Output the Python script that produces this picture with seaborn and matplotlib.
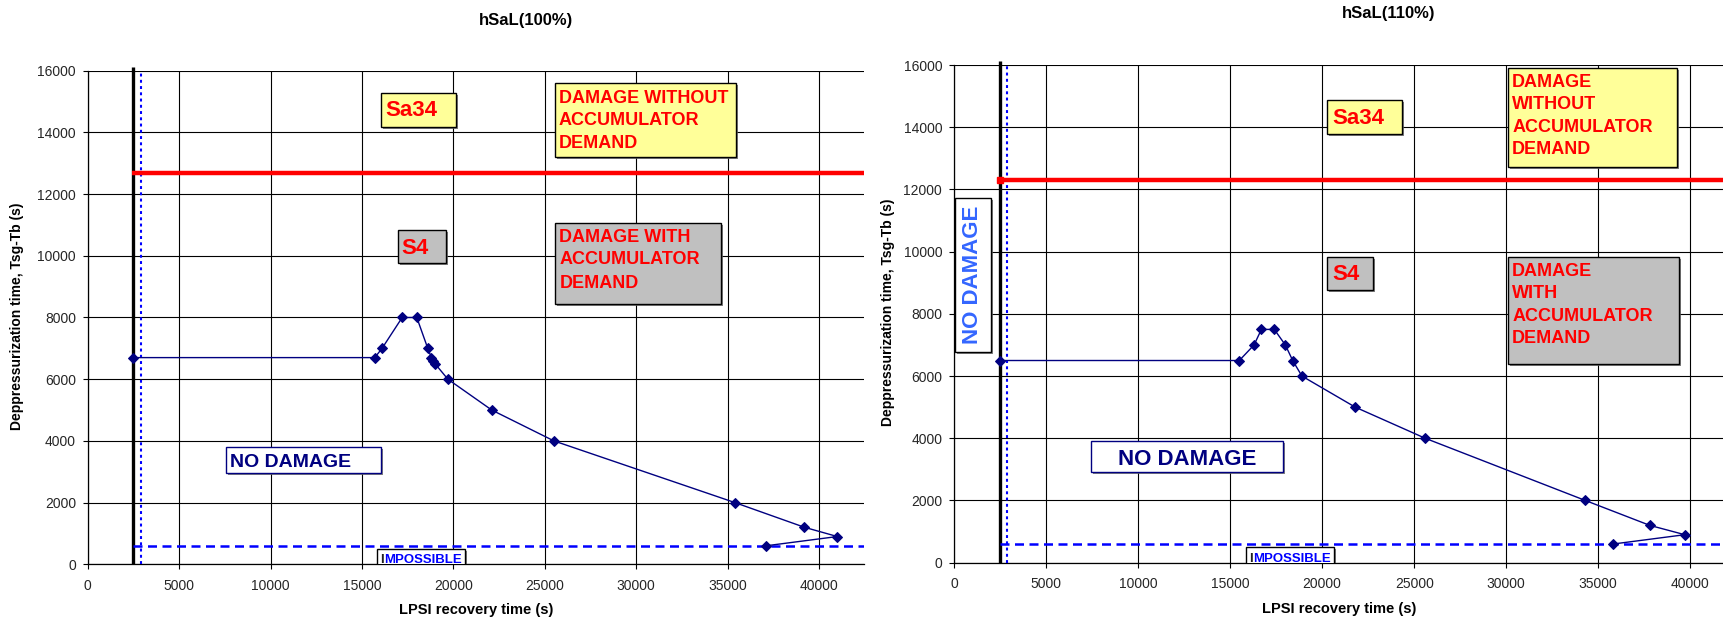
import matplotlib
matplotlib.use("Agg")
import matplotlib.pyplot as plt
import matplotlib.patheffects as pe
from matplotlib.patches import Rectangle
import seaborn as sns
import pandas as pd

# ---- data -------------------------------------------------------------
# hSaL(100%) boundary curve
lpsi_100 = [2500, 15700, 16100, 17200, 18000, 18600, 18800, 18900, 19000,
            19700, 22100, 25500, 35400, 39200, 41000, 37100]
depress_100 = [6700, 6700, 7000, 8000, 8000, 7000, 6700, 6600, 6500,
               6000, 5000, 4000, 2000, 1200, 900, 600]

# hSaL(110%) boundary curve
lpsi_110 = [2500, 15500, 16300, 16700, 17400, 18000, 18400, 18900,
            21800, 25600, 34300, 37800, 39700, 35800]
depress_110 = [6500, 6500, 7000, 7500, 7500, 7000, 6500, 6000,
               5000, 4000, 2000, 1200, 900, 600]

titles = ["hSaL(100%)", "hSaL(110%)"]
accumulator_limit = [12700, 12300]    # red line (accumulator demand)
min_lpsi = 2500                        # black vertical line
min_lpsi_dotted = 2900                 # blue dotted vertical line
min_depress = 600                      # blue dashed horizontal line

x_ticks = list(range(0, 40001, 5000))
y_ticks = list(range(0, 16001, 2000))

# ---- style ------------------------------------------------------------
sns.set_theme(style="white")
plt.rcParams["font.family"] = ["Liberation Sans", "DejaVu Sans"]

NAVY = "#000080"
RED = "#FF0000"
YELLOW = "#FFFF99"
GREY = "#C0C0C0"
BLUE = "#0000FF"
LIGHTBLUE = "#3366FF"
PX = 0.72  # points per pixel at 100 dpi

fig = plt.figure(figsize=(17.24, 6.2), dpi=100)
ax_l = fig.add_axes([0.05087, 0.08984, 0.45030, 0.79613])
ax_r = fig.add_axes([0.55336, 0.09242, 0.44664, 0.80274])

shadow = [pe.SimplePatchShadow(offset=(1.5, -1.5), shadow_rgbFace="#606060", alpha=0.8),
          pe.Normal()]


def box(ax, x0, x1, y0, y1, face, edge="black"):
    r = Rectangle((x0, y0), x1 - x0, y1 - y0, facecolor=face, edgecolor=edge,
                  lw=1.0, zorder=4, path_effects=shadow)
    ax.add_patch(r)


def lines_in_box(ax, x0, y1, lines, dx, dys, size, color, ha="left"):
    for s, dy in zip(lines, dys):
        ax.annotate(s, xy=(x0, y1), xycoords="data",
                    xytext=(dx * PX, -dy * PX), textcoords="offset points",
                    ha=ha, va="baseline", fontsize=size,
                    fontweight="bold", color=color, zorder=5,
                    annotation_clip=False)


def base_axes(ax, xs, ys, xmax, title_xy, title, red_y, red_marker):
    df = pd.DataFrame({"lpsi": xs, "dep": ys})
    ax.set_xlim(0, xmax)
    ax.set_ylim(0, 16000)
    ax.set_xticks(x_ticks)
    ax.set_yticks(y_ticks)
    ax.grid(True, color="black", lw=0.8, zorder=0)
    ax.set_axisbelow(True)
    for side in ("top", "right"):
        ax.spines[side].set_visible(False)
    for side in ("left", "bottom"):
        ax.spines[side].set_color("black")
        ax.spines[side].set_linewidth(0.9)
    ax.tick_params(axis="both", which="major", direction="out", length=3.5,
                   width=0.8, color="black", labelsize=10, bottom=True, left=True)
    ax.tick_params(axis="y", pad=5)
    ax.tick_params(axis="x", pad=7)

    # reference lines
    ax.plot([min_lpsi, min_lpsi], [0, 16130], color="black", lw=2.4,
            zorder=3, clip_on=False, solid_capstyle="butt")
    ax.plot([min_lpsi_dotted, min_lpsi_dotted], [0, 16000], color=BLUE, lw=1.5,
            ls=(0, (1.4, 1.6)), zorder=3)
    ax.plot([min_lpsi, xmax], [min_depress, min_depress], color=BLUE, lw=1.8,
            ls=(0, (3.6, 2.2)), zorder=3)
    ax.plot([red_marker[0], xmax], [red_y, red_y], color=RED, lw=3.2, zorder=3,
            solid_capstyle="butt")
    if red_marker[1]:
        ax.plot([red_marker[0]], [red_y], marker="s", ms=5, color=RED, zorder=3)

    sns.lineplot(data=df, x="lpsi", y="dep", sort=False, estimator=None,
                 color=NAVY, lw=1.0, marker="D", markersize=5,
                 markeredgecolor=NAVY, ax=ax, zorder=6)

    fig.text(title_xy[0], title_xy[1], title, ha="center", va="center",
             fontsize=12, fontweight="bold", color="black")
    ax.set_xlabel("LPSI recovery time (s)", fontsize=10.5, fontweight="bold",
                  color="black", va="center")
    ax.set_ylabel("Deppressurization time, Tsg-Tb (s)", fontsize=10,
                  fontweight="bold", color="black", va="center")


# ---- hSaL(100%) -------------------------------------------------------
base_axes(ax_l, lpsi_100, depress_100, 42460, (525.6 / 1724, 1 - 20 / 620),
          titles[0], accumulator_limit[0], (2400, False))
ax_l.xaxis.set_label_coords(0.5, -0.0926)
ax_l.yaxis.set_label_coords(-0.091, 0.503)

box(ax_l, 16050, 20150, 14165, 15287, YELLOW)
lines_in_box(ax_l, 16050, 15287, ["Sa34"], 4.5, [23.5], 16, RED)
box(ax_l, 25560, 35460, 13193, 15592, YELLOW)
lines_in_box(ax_l, 25560, 15592, ["DAMAGE WITHOUT", "ACCUMULATOR", "DEMAND"],
             4, [19.4, 41.7, 64.4], 13, RED)
box(ax_l, 16970, 19610, 9757, 10836, GREY)
lines_in_box(ax_l, 16970, 10836, ["S4"], 3, [24], 16, RED)
box(ax_l, 25580, 34650, 8438, 11053, GREY)
lines_in_box(ax_l, 25580, 11053, ["DAMAGE WITH", "ACCUMULATOR", "DEMAND"],
             4, [18.4, 41.1, 64.4], 13, RED)
box(ax_l, 7560, 16040, 2950, 3812, "white", edge=NAVY)
lines_in_box(ax_l, 7560, 3812, ["NO DAMAGE"], 4.5, [20], 14, NAVY)
box(ax_l, 15810, 20640, -400, 496, "white")
lines_in_box(ax_l, 15810, 496, ["I"], 3.3, [14.5], 9.5, "#202020")
lines_in_box(ax_l, 15810, 496, ["MPOSSIBLE"], 7.6, [14.5], 9.5, BLUE)

# ---- hSaL(110%) -------------------------------------------------------
base_axes(ax_r, lpsi_110, depress_110, 41830, (1389 / 1724, 1 - 13.3 / 620),
          titles[1], accumulator_limit[1], (2500, True))
ax_r.xaxis.set_label_coords(0.5, -0.093)
ax_r.yaxis.set_label_coords(-0.0857, 0.503)

box(ax_r, 20250, 24320, 13772, 14875, YELLOW)
lines_in_box(ax_r, 20250, 14875, ["Sa34"], 5.5, [24.3], 16, RED)
box(ax_r, 30100, 39280, 12731, 15913, YELLOW)
lines_in_box(ax_r, 30100, 15913, ["DAMAGE", "WITHOUT", "ACCUMULATOR", "DEMAND"],
             4, [19, 41.5, 64, 86.5], 13, RED)
box(ax_r, 20250, 22760, 8767, 9837, GREY)
lines_in_box(ax_r, 20250, 9837, ["S4"], 5.5, [23.3], 16, RED)
box(ax_r, 30100, 39390, 6388, 9837, GREY)
lines_in_box(ax_r, 30100, 9837, ["DAMAGE", "WITH", "ACCUMULATOR", "DEMAND"],
             4, [19, 41.5, 64, 86.5], 13, RED)
box(ax_r, 7460, 17850, 2916, 3903, "white", edge=NAVY)
lines_in_box(ax_r, (7460 + 17850) / 2, 3903, ["NO DAMAGE"], 0, [23.4], 16,
             NAVY, ha="center")
box(ax_r, 45, 2010, 6783, 11734, "white")
ax_r.text(1027, (6783 + 11734) / 2, "NO DAMAGE", rotation=90, ha="center",
          va="center", fontsize=16, fontweight="bold", color=LIGHTBLUE, zorder=5)
box(ax_r, 15845, 20630, -400, 495, "white")
lines_in_box(ax_r, 15845, 495, ["I"], 3.0, [15], 9.5, "#202020")
lines_in_box(ax_r, 15845, 495, ["MPOSSIBLE"], 7.3, [15], 9.5, BLUE)

fig.savefig("out.png", dpi=100, facecolor="white")
